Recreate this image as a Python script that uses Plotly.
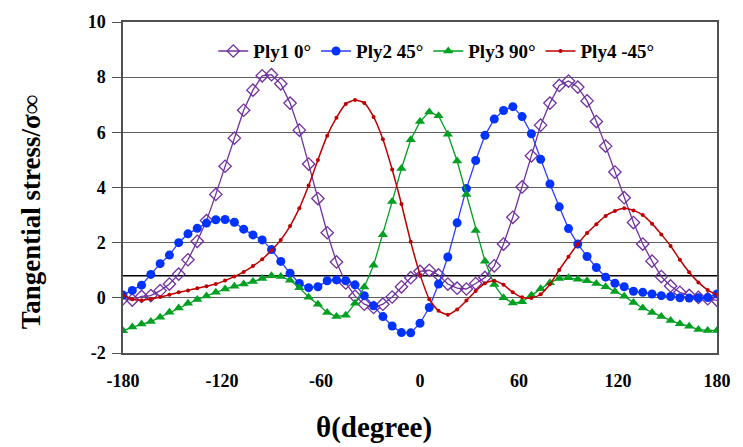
import plotly.graph_objects as go

theta = [-180, -174.375, -168.75, -163.125, -157.5, -151.875, -146.25, -140.625,
         -135, -129.375, -123.75, -118.125, -112.5, -106.875, -101.25, -95.625,
         -90, -84.375, -78.75, -73.125, -67.5, -61.875, -56.25, -50.625,
         -45, -39.375, -33.75, -28.125, -22.5, -16.875, -11.25, -5.625,
         0, 5.625, 11.25, 16.875, 22.5, 28.125, 33.75, 39.375,
         45, 50.625, 56.25, 61.875, 67.5, 73.125, 78.75, 84.375,
         90, 95.625, 101.25, 106.875, 112.5, 118.125, 123.75, 129.375,
         135, 140.625, 146.25, 151.875, 157.5, 163.125, 168.75, 174.375, 180]

ply1 = [-0.03, -0.08, 0.05, 0.08, 0.26, 0.50, 0.86, 1.38, 2.05, 2.80, 3.75, 4.77,
        5.79, 6.80, 7.53, 8.05, 8.09, 7.76, 7.06, 6.08, 4.85, 3.60, 2.36, 1.30,
        0.54, 0.06, -0.23, -0.35, -0.23, 0.03, 0.40, 0.73, 0.96, 1.00, 0.83, 0.50,
        0.35, 0.32, 0.52, 0.74, 1.16, 1.95, 2.92, 4.02, 5.15, 6.26, 7.06, 7.70,
        7.86, 7.64, 7.14, 6.39, 5.50, 4.56, 3.63, 2.73, 1.95, 1.33, 0.77, 0.43,
        0.20, 0.09, 0.02, -0.03, -0.09]

ply2 = [0.10, 0.27, 0.46, 0.85, 1.24, 1.55, 2.00, 2.32, 2.52, 2.71, 2.83, 2.84,
        2.74, 2.49, 2.28, 2.10, 1.75, 1.32, 0.89, 0.52, 0.37, 0.40, 0.62, 0.65,
        0.62, 0.47, 0.08, -0.29, -0.68, -1.02, -1.26, -1.27, -0.92, -0.35, 0.50, 1.48,
        2.72, 3.96, 4.98, 5.89, 6.48, 6.79, 6.93, 6.57, 5.95, 5.02, 4.13, 3.30,
        2.51, 1.95, 1.50, 1.10, 0.75, 0.53, 0.40, 0.24, 0.20, 0.14, 0.08, 0.05,
        0.00, -0.01, 0.00, 0.01, 0.14]

ply3 = [-1.19, -1.06, -0.95, -0.86, -0.70, -0.52, -0.37, -0.20, -0.06, 0.07, 0.20, 0.32,
        0.42, 0.50, 0.59, 0.70, 0.80, 0.77, 0.64, 0.37, 0.02, -0.23, -0.53, -0.68,
        -0.63, -0.20, 0.39, 1.18, 2.29, 3.49, 4.69, 5.73, 6.39, 6.74, 6.60, 5.93,
        4.96, 3.75, 2.44, 1.33, 0.48, 0.00, -0.19, -0.14, 0.09, 0.33, 0.55, 0.70,
        0.73, 0.67, 0.62, 0.52, 0.40, 0.23, 0.06, -0.17, -0.37, -0.53, -0.68, -0.82,
        -0.94, -1.03, -1.15, -1.18, -1.18]

ply4 = [0.10, -0.05, -0.09, -0.04, 0.03, 0.11, 0.20, 0.27, 0.35, 0.42, 0.50, 0.63,
        0.77, 0.94, 1.15, 1.40, 1.72, 2.10, 2.60, 3.25, 4.07, 5.00, 5.88, 6.53,
        7.03, 7.17, 7.06, 6.56, 5.75, 4.65, 3.40, 2.03, 0.85, -0.05, -0.47, -0.61,
        -0.42, -0.10, 0.25, 0.53, 0.62, 0.47, 0.20, 0.02, -0.01, 0.13, 0.49, 1.01,
        1.49, 1.95, 2.35, 2.67, 2.97, 3.15, 3.25, 3.17, 3.00, 2.69, 2.30, 1.88,
        1.38, 0.93, 0.56, 0.28, 0.10]

ref_level = 0.8
names = ["Ply1 0°", "Ply2 45°", "Ply3 90°", "Ply4 -45°"]
yticks = [-2, 0, 2, 4, 6, 8, 10]
xticks = [-180, -120, -60, 0, 60, 120, 180]

FONT = "Liberation Serif"

fig = go.Figure()
fig.add_trace(go.Scatter(
    x=theta, y=ply1, name=names[0], mode="lines+markers",
    line=dict(color="#7030A0", width=1.3),
    marker=dict(symbol="diamond-open", size=9.5, color="#7030A0", line=dict(width=1.3))))
fig.add_trace(go.Scatter(
    x=theta, y=ply2, name=names[1], mode="lines+markers",
    line=dict(color="#2B3CFF", width=1.3),
    marker=dict(symbol="circle", size=9, color="#0033FF")))
fig.add_trace(go.Scatter(
    x=theta, y=ply3, name=names[2], mode="lines+markers",
    line=dict(color="#00A020", width=1.3),
    marker=dict(symbol="triangle-up", size=9, color="#00A020")))
fig.add_trace(go.Scatter(
    x=theta, y=ply4, name=names[3], mode="lines+markers",
    line=dict(color="#C00000", width=1.5, shape="spline", smoothing=0.6),
    marker=dict(symbol="circle", size=4, color="#C00000")))

fig.add_shape(type="line", xref="paper", yref="y", x0=0, x1=1,
              y0=ref_level, y1=ref_level, line=dict(color="#000000", width=1.6),
              layer="below")

fig.update_layout(
    width=743, height=447,
    margin=dict(l=123, r=16, t=14, b=94),
    paper_bgcolor="white", plot_bgcolor="white",
    font=dict(family=FONT, color="black"),
    showlegend=True,
    legend=dict(orientation="h", x=0.152, y=0.912, xanchor="left", yanchor="middle",
                bgcolor="rgba(0,0,0,0)", font=dict(family=FONT, size=19, weight="bold"),
                itemwidth=30, tracegroupgap=0),
    xaxis=dict(range=[-180, 180], tickvals=xticks, ticktext=[str(v) for v in xticks],
               showgrid=False, zeroline=False, showline=True, linecolor="#505050",
               linewidth=1.5, mirror=True, ticks="", ticklabelstandoff=11,
               tickfont=dict(family=FONT, size=18, weight="bold")),
    yaxis=dict(range=[-2, 10], tickvals=yticks, ticktext=[str(v) for v in yticks],
               showgrid=True, gridcolor="#606060", gridwidth=1,
               zeroline=False, showline=True, linecolor="#505050", linewidth=1.5,
               mirror=True, ticks="outside", ticklen=9, tickcolor="#505050",
               ticklabelstandoff=3,
               tickfont=dict(family=FONT, size=18, weight="bold")),
)

fig.add_annotation(text="<b>Tangential stress/σ∞</b>", xref="paper", yref="paper",
                   x=-0.155, y=0.425, textangle=-90, showarrow=False,
                   font=dict(family=FONT, size=27, color="black"),
                   xanchor="center", yanchor="middle")
fig.add_annotation(text="<b>θ(degree)</b>", xref="paper", yref="paper",
                   x=0.4227, y=-0.226, showarrow=False,
                   font=dict(family=FONT, size=29, color="black"),
                   xanchor="center", yanchor="middle")

fig.write_html("out.html")
